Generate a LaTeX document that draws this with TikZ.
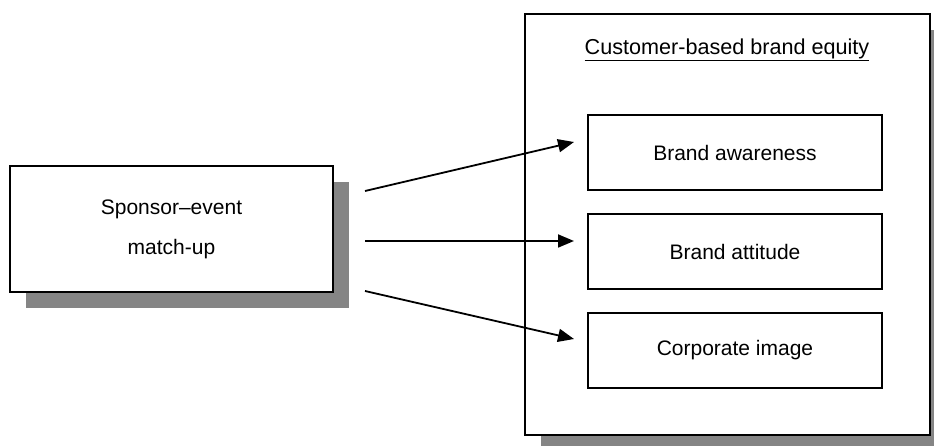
\documentclass[tikz,border=0pt]{standalone}
\usepackage{fontspec}
\setmainfont{Liberation Sans}
\usetikzlibrary{arrows.meta,shadows}
\begin{document}
\begin{tikzpicture}[x=1pt,y=-1pt,
  shadowbox/.style={draw=black, line width=1.7pt, fill=white, rectangle,
    copy shadow={shadow xshift=16pt, shadow yshift=-16pt, fill=black!48, draw=none}},
  innerbox/.style={draw=black, line width=1.7pt, fill=white, rectangle,
    minimum width=294pt, minimum height=75pt, inner sep=0pt},
  lbl/.style={font=\fontsize{21}{25}\selectfont},
  conn/.style={line width=1.8pt, -{Triangle[length=16pt,width=13pt]}}]
\useasboundingbox[fill=white] (0,0) rectangle (934,446);
% left box
\node[shadowbox, minimum width=323pt, minimum height=126pt, inner sep=0pt,
  align=center, lbl] (spon) at (171.5,229) {Sponsor--event\\[15pt]match-up};
% big box
\node[shadowbox, minimum width=405pt, minimum height=421pt, inner sep=0pt] (cbbe) at (727.5,224.5) {};
\node[font=\fontsize{21.6}{25}\selectfont] (title) at (727,50) {\underline{Customer-based brand equity}};
% inner boxes
\node[innerbox, lbl] (aware) at (735,152.5) {Brand awareness};
\node[innerbox, lbl] (att) at (735,251.5) {Brand attitude};
\node[innerbox, lbl] (corp) at (735,350.5) {Corporate image};
% arrow endpoints
\coordinate (s1) at (365,191);
\coordinate (s2) at (365,241);
\coordinate (s3) at (365,291);
\coordinate (e1) at (574,142);
\coordinate (e2) at (574,241);
\coordinate (e3) at (574,339);
\draw[conn] (s1) -- (e1);
\draw[conn] (s2) -- (e2);
\draw[conn] (s3) -- (e3);
\end{tikzpicture}
\end{document}
